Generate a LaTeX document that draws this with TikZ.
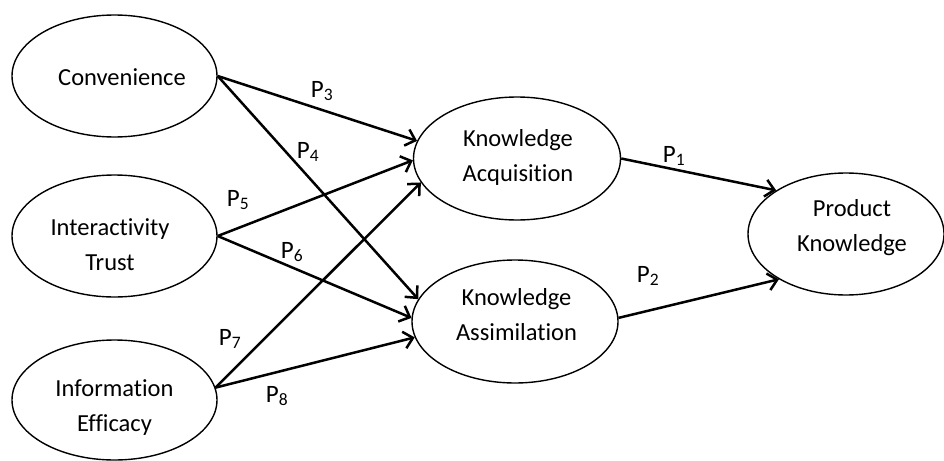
\documentclass[tikz,border=0pt]{standalone}
\usepackage{fontspec}
\setmainfont{Carlito}[Ligatures={NoCommon}]
\usetikzlibrary{shapes.geometric,arrows.meta}

\begin{document}
\begin{tikzpicture}[x=1pt,y=-1pt,
  construct/.style={draw,ellipse,line width=1.4pt,inner sep=0pt},
  ctext/.style={font=\fontsize{24.5}{35}\selectfont,align=center,inner sep=0pt},
  plabel/.style={font=\fontsize{25}{30}\selectfont,inner sep=0pt},
  path/.style={line width=2.5pt,-{Straight Barb[length=9pt,width=17pt,line width=2.5pt]}}
]
\useasboundingbox (0,0) rectangle (944,460);

% constructs
\node[construct,minimum width=205pt,minimum height=122pt] (conv) at (114.5,76) {};
\node[construct,minimum width=205pt,minimum height=122pt] (itr)  at (114.5,236) {};
\node[construct,minimum width=205pt,minimum height=120pt] (ieff) at (114.5,400) {};
\node[construct,minimum width=207pt,minimum height=123pt] (kacq) at (517,158.5) {};
\node[construct,minimum width=206pt,minimum height=123pt] (kasm) at (515,321.5) {};
\node[construct,minimum width=196pt,minimum height=122pt] (prod) at (846,234) {};

% construct names
\node[ctext] (tconv) at (122,77) {Convenience};
\node[ctext] (titr)  at (110,245) {Interactivity\\Trust};
\node[ctext] (tieff) at (114.5,408) {Information\\Efficacy};
\node[ctext] (tkacq) at (518,157) {Knowledge\\Acquisition};
\node[ctext] (tkasm) at (516.5,315) {Knowledge\\Assimilation};
\node[ctext] (tprod) at (852,228) {Product\\Knowledge};

% hypothesised paths
\draw[path] (conv.east) -- (kacq.170);
\draw[path] (conv.east) -- (kasm.167);
\draw[path] (itr.east)  -- (kacq.181);
\draw[path] (itr.east)  -- (kasm.178);
\draw[path] (ieff.7)    -- (kacq.194);
\draw[path] (ieff.7)    -- (kasm.189);
\draw[path] (kacq.east) -- (prod.148);
\draw[path] (kasm.2)    -- (prod.214);

% path labels
\node[plabel] (p3) at (322,91)  {P\textsubscript{3}};
\node[plabel] (p4) at (308,152) {P\textsubscript{4}};
\node[plabel] (p5) at (238,200) {P\textsubscript{5}};
\node[plabel] (p6) at (292,252) {P\textsubscript{6}};
\node[plabel] (p7) at (230,339) {P\textsubscript{7}};
\node[plabel] (p8) at (277,396) {P\textsubscript{8}};
\node[plabel] (p1) at (674,156) {P\textsubscript{1}};
\node[plabel] (p2) at (648,276) {P\textsubscript{2}};
\end{tikzpicture}
\end{document}
